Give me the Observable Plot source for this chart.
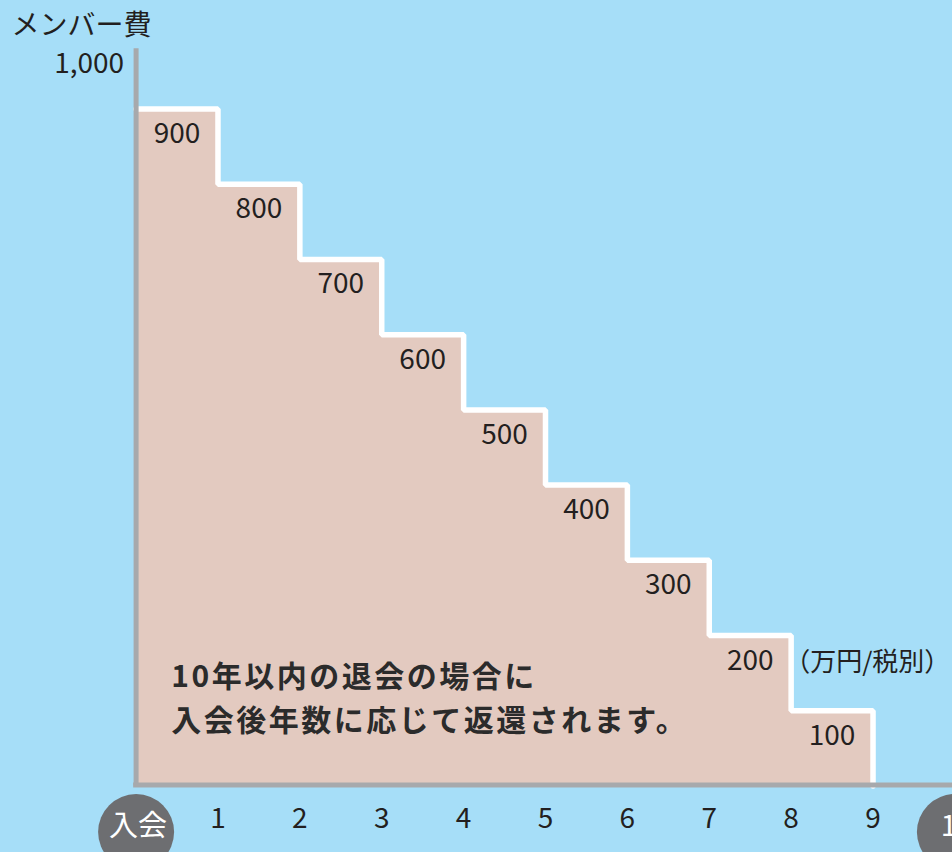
<!DOCTYPE html>
<html>
<head>
<meta charset="utf-8">
<script src="https://cdn.jsdelivr.net/npm/d3@7"></script>
<script src="https://cdn.jsdelivr.net/npm/@observablehq/plot@0.6"></script>
<style>
  html, body { margin: 0; padding: 0; background: #a6def8; overflow: hidden; }
  #chart svg { overflow: hidden; display: block; }
</style>
</head>
<body>
<div id="chart"></div>
<script>
// Data
const years = [0, 1, 2, 3, 4, 5, 6, 7, 8];
const fees = [900, 800, 700, 600, 500, 400, 300, 200, 100];
const tickValues = [1, 2, 3, 4, 5, 6, 7, 8, 9];
const tickLabels = ["1", "2", "3", "4", "5", "6", "7", "8", "9"];
const circleTicks = [0, 10];
const circleLabels = ["入会", "10"];
const yTopLabel = "1,000";
const yTitle = "メンバー費";
const unitLabel = "（万円/税別）";
const noteLines = ["10年以内の退会の場合に", "入会後年数に応じて返還されます。"];

const steps = years.map((x, i) => ({x, y: fees[i]})).concat([{x: 9, y: 0}]);
const valueLabels = years.map((x, i) => ({x: x + 0.5, y: fees[i], t: String(fees[i])}));
const ticks = tickValues.map((v, i) => ({x: v, t: tickLabels[i]}));
const circles = circleTicks.map((v, i) => ({x: v, t: circleLabels[i]}));
const notes = noteLines.map((t, i) => ({t, x: 0.43, y: 144 - i * 58}));

const font = "'Noto Sans CJK JP', 'Noto Sans', sans-serif";
const dark = "#231f20";
const gray = "#a7a9ac";

const chart = Plot.plot({
  width: 952,
  height: 852,
  margin: 0,
  style: {background: "#a6def8", fontFamily: font},
  x: {domain: [0, 10], range: [135.6, 954.4], axis: null},
  y: {domain: [0, 900], range: [785.5, 108.5], axis: null},
  marks: [
    Plot.areaY(steps, {x: "x", y: "y", curve: "step-after", fill: "#e3cac0"}),
    Plot.lineY(steps, {x: "x", y: "y", curve: "step-after", stroke: "white", strokeWidth: 5.5, strokeLinejoin: "miter"}),
    Plot.ruleX([0], {y1: () => 0, y2: () => 980, stroke: gray, strokeWidth: 5}),
    Plot.ruleY([0], {x1: () => -0.03, x2: () => 11, stroke: gray, strokeWidth: 5, dy: -1}),
    Plot.text(valueLabels, {x: "x", y: "y", text: "t", dy: 25, fontSize: 28, fill: dark}),
    Plot.text([unitLabel], {x: () => 8, y: () => 200, text: d => d, dx: -7, dy: 27, textAnchor: "start", fontSize: 26, fill: dark}),
    Plot.text([yTopLabel], {x: () => 0, y: () => 1000, text: d => d, dx: -12, dy: 30, textAnchor: "end", fontSize: 28, fill: dark}),
    Plot.text([yTitle], {frameAnchor: "top-left", text: d => d, dx: 11, dy: 15, textAnchor: "start", fontSize: 28, fill: dark}),
    Plot.text(notes, {x: "x", y: "y", text: "t", textAnchor: "start", fontSize: 30, fontWeight: "bold", fill: "#2b2b2b"}),
    Plot.text(ticks, {x: "x", y: () => 0, text: "t", dy: 33, fontSize: 28, fill: dark}),
    Plot.dot(circles, {x: "x", y: () => 0, dy: 46, r: 38, fill: "#6d6e71", stroke: "none"}),
    Plot.text(circles, {x: "x", y: () => 0, text: "t", dy: 41, dx: 2, fontSize: 29, fill: "white"})
  ]
});

// letter spacing for the bold note
d3.select(chart).selectAll("text").filter(function() {
  return this.getAttribute("font-weight") === "bold" || (this.parentNode && this.parentNode.getAttribute("font-weight") === "bold");
}).attr("letter-spacing", "2.5px");

document.getElementById("chart").appendChild(chart);
</script>
</body>
</html>
